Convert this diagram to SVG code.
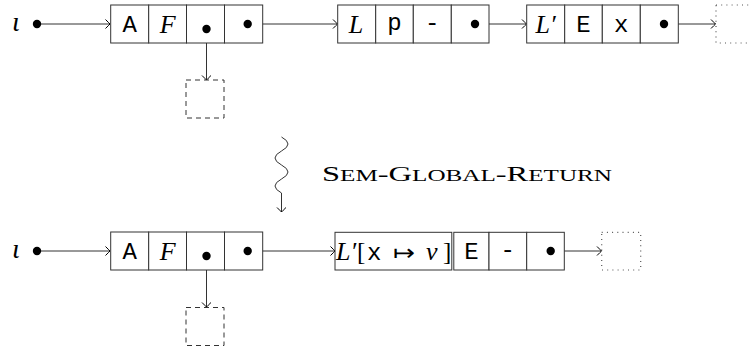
<svg xmlns="http://www.w3.org/2000/svg" width="749" height="352" viewBox="0 0 749 352">
<style>
.cell{fill:#fff;stroke:#333;stroke-width:1}
.dash{fill:none;stroke:#333;stroke-width:1;stroke-dasharray:5 4}
.dot{fill:none;stroke:#555;stroke-width:1.2;stroke-dasharray:1 4.2}
.ln{fill:none;stroke:#333;stroke-width:1}
.pt{fill:#000}
.it{font-family:"Liberation Serif",serif;font-style:italic;font-size:26px;fill:#000}
.io{font-family:"Liberation Serif",serif;font-style:italic;font-size:28px;fill:#000}
.rm{font-family:"Liberation Serif",serif;font-size:25px;fill:#000}
.ar{font-family:"DejaVu Sans",sans-serif;font-size:22px;fill:#000}
.tt{font-family:"Liberation Mono",monospace;font-size:24px;fill:#000}
.lab{font-family:"Liberation Serif",serif;font-size:22px;fill:#000}
.sm{font-size:17px}
</style>
<defs>
<marker id="to" markerUnits="userSpaceOnUse" markerWidth="12" markerHeight="12" viewBox="-6 -6 12 12" refX="0" refY="0" orient="auto">
<path d="M -4.5,-4.5 Q -1.2,-1.2 0,0 Q -1.2,1.2 -4.5,4.5" fill="none" stroke="#000" stroke-width="1"/>
</marker>
</defs>

<g id="connectors">
<line class="ln" x1="37" y1="24" x2="110" y2="24" marker-end="url(#to)"/>
<line class="ln" x1="206.5" y1="29" x2="206.5" y2="80" marker-end="url(#to)"/>
<line class="ln" x1="247.7" y1="24" x2="337.5" y2="24" marker-end="url(#to)"/>
<line class="ln" x1="475" y1="24" x2="526.5" y2="24" marker-end="url(#to)"/>
<line class="ln" x1="664" y1="24" x2="715.5" y2="24" marker-end="url(#to)"/>
<path class="ln" d="M 281.5,137 Q 294.5,144 281.5,151 T 281.5,165 T 281.5,179 T 281.5,193 L 281.5,212" marker-end="url(#to)"/>
<line class="ln" x1="37" y1="251" x2="110" y2="251" marker-end="url(#to)"/>
<line class="ln" x1="206.5" y1="256" x2="206.5" y2="307" marker-end="url(#to)"/>
<line class="ln" x1="247.7" y1="251" x2="335" y2="251" marker-end="url(#to)"/>
<line class="ln" x1="550.7" y1="251" x2="601.5" y2="251" marker-end="url(#to)"/>
</g>

<g id="iota-top">
<text class="io" x="12" y="31">ι</text>
<circle class="pt" cx="37" cy="24" r="4.2"/>
</g>

<g id="node-top-1">
<rect class="cell" x="110.7" y="5" width="38" height="38"/>
<rect class="cell" x="148.7" y="5" width="37.8" height="38"/>
<rect class="cell" x="186.5" y="5" width="38" height="38"/>
<rect class="cell" x="224.5" y="5" width="38.2" height="38"/>
<text class="tt" x="129.7" y="31.5" text-anchor="middle">A</text>
<text class="it" x="167.7" y="33" text-anchor="middle">F</text>
<circle class="pt" cx="206.5" cy="29" r="4.2"/>
<circle class="pt" cx="247.7" cy="24" r="4.2"/>
</g>

<g id="null-top">
<rect class="dash" x="186" y="80" width="38" height="38"/>
</g>

<g id="node-top-2">
<rect class="cell" x="337.7" y="5" width="38" height="38"/>
<rect class="cell" x="375.7" y="5" width="37.6" height="38"/>
<rect class="cell" x="413.3" y="5" width="38" height="38"/>
<rect class="cell" x="451.3" y="5" width="37.7" height="38"/>
<text class="it" x="356" y="33" text-anchor="middle">L</text>
<text class="tt" x="394.5" y="30" text-anchor="middle">p</text>
<text class="tt" x="432.3" y="30" text-anchor="middle">-</text>
<circle class="pt" cx="475" cy="24" r="4.2"/>
</g>

<g id="node-top-3">
<rect class="cell" x="526.7" y="5" width="38" height="38"/>
<rect class="cell" x="564.7" y="5" width="37.6" height="38"/>
<rect class="cell" x="602.3" y="5" width="38" height="38"/>
<rect class="cell" x="640.3" y="5" width="38" height="38"/>
<text class="it" x="545.5" y="33" text-anchor="middle">L′</text>
<text class="tt" x="583.5" y="31.5" text-anchor="middle">E</text>
<text class="tt" x="621.3" y="31.5" text-anchor="middle">x</text>
<circle class="pt" cx="664" cy="24" r="4.2"/>
</g>

<g id="end-top">
<rect class="dot" x="716" y="5" width="38" height="38"/>
</g>

<g id="transition">
<text class="lab" x="322" y="181" textLength="290" lengthAdjust="spacingAndGlyphs">S<tspan class="sm">EM</tspan>-G<tspan class="sm">LOBAL</tspan>-R<tspan class="sm">ETURN</tspan></text>
</g>

<g id="iota-bottom">
<text class="io" x="12" y="258">ι</text>
<circle class="pt" cx="37" cy="251" r="4.2"/>
</g>

<g id="node-bottom-1">
<rect class="cell" x="110.7" y="232" width="38" height="38"/>
<rect class="cell" x="148.7" y="232" width="37.8" height="38"/>
<rect class="cell" x="186.5" y="232" width="38" height="38"/>
<rect class="cell" x="224.5" y="232" width="38.2" height="38"/>
<text class="tt" x="129.7" y="258.5" text-anchor="middle">A</text>
<text class="it" x="167.7" y="260" text-anchor="middle">F</text>
<circle class="pt" cx="206.5" cy="256" r="4.2"/>
<circle class="pt" cx="247.7" cy="251" r="4.2"/>
</g>

<g id="null-bottom">
<rect class="dash" x="186" y="307.5" width="38" height="38"/>
</g>

<g id="node-bottom-2">
<rect class="cell" x="335" y="232.3" width="116.8" height="37.7"/>
<rect class="cell" x="453.8" y="232.3" width="35.2" height="37.7"/>
<rect class="cell" x="489" y="232.3" width="37.7" height="37.7"/>
<rect class="cell" x="526.7" y="232.3" width="37.6" height="37.7"/>
<text y="260"><tspan class="it" x="336">L′</tspan><tspan class="rm" x="357">[</tspan><tspan class="tt" x="367">x</tspan><tspan class="ar" x="393" textLength="22" lengthAdjust="spacingAndGlyphs">↦</tspan><tspan class="it" x="426">v</tspan><tspan class="rm" x="443">]</tspan></text>
<text class="tt" x="471.4" y="258.5" text-anchor="middle">E</text>
<text class="tt" x="507.8" y="257" text-anchor="middle">-</text>
<circle class="pt" cx="550.7" cy="251" r="4.2"/>
</g>

<g id="end-bottom">
<rect class="dot" x="601.7" y="232.3" width="39" height="37.7"/>
</g>
</svg>
